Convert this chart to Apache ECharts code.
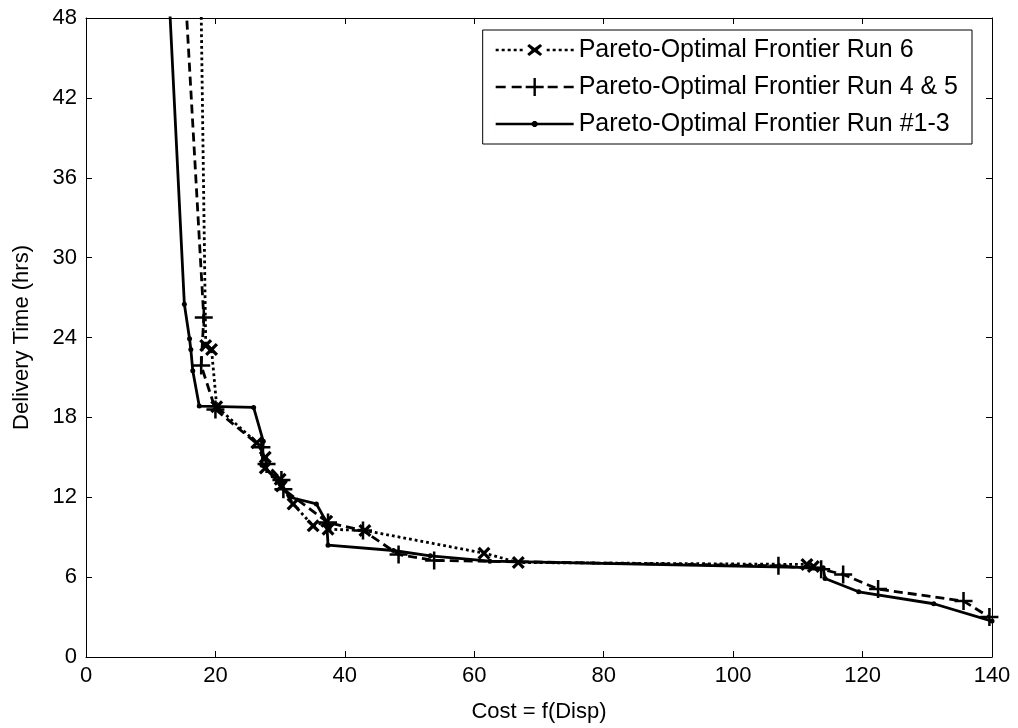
<!DOCTYPE html>
<html>
<head>
<meta charset="utf-8">
<script src="https://cdn.jsdelivr.net/npm/echarts@6/dist/echarts.min.js"></script>
<style>
  html, body { margin: 0; background: #fff; }
  #chart { width: 1018px; height: 728px; }
</style>
</head>
<body>
<div id="chart"></div>
<script>
// values (first point of each run lies above the 48 h limit and is clipped)
const run6Cost = [17.7, 18.5, 19.4, 20.2, 26.4, 27.7, 27.7, 30.0, 30.2, 32.0, 35.1, 37.2, 37.4, 43.1, 61.5, 66.8, 111.4, 112.4]
const run6Time = [52, 23.4, 23.1, 18.8, 16.1, 15.0, 14.2, 13.35, 12.85, 11.5, 9.85, 10.2, 9.6, 9.5, 7.8, 7.1, 6.95, 6.8]

const run45Cost = [15.1, 18.2, 17.8, 20.0, 27.1, 27.9, 30.2, 30.5, 37.4, 42.8, 48.3, 53.8, 107.0, 113.6, 117.0, 122.4, 135.6, 139.6]
const run45Time = [52, 25.5, 21.9, 18.6, 15.75, 14.5, 13.3, 12.6, 10.1, 9.5, 7.7, 7.25, 6.85, 6.6, 6.2, 5.1, 4.2, 3.0]

const run13Cost = [12.6, 15.2, 16.0, 16.2, 16.5, 17.5, 25.9, 27.4, 27.2, 28.9, 30.0, 31.5, 35.6, 37.2, 37.4, 47.5, 53.2, 62.4, 113.9, 114.2, 119.4, 131.0, 140.0]
const run13Time = [52, 26.5, 23.9, 23.1, 21.5, 18.85, 18.75, 16.2, 14.4, 13.6, 13.0, 12.0, 11.5, 10.1, 8.4, 8.0, 7.6, 7.2, 6.7, 5.9, 4.9, 4.0, 2.7]

const seriesNames = ['Pareto-Optimal Frontier Run 6', 'Pareto-Optimal Frontier Run 4 & 5', 'Pareto-Optimal Frontier Run #1-3']
const xTicks = { min: 0, max: 140, interval: 20 }
const yTicks = { min: 0, max: 48, interval: 6 }

const zip = (xs, ys) => xs.map((x, i) => [x, ys[i]])

// plot markers
const PLUS = 'path://M8.6,0H11.4V8.6H20V11.4H11.4V20H8.6V11.4H0V8.6H8.6Z'
const CROSS = 'path://M3.5,0L10,6.5L16.5,0L20,3.5L13.5,10L20,16.5L16.5,20L10,13.5L3.5,20L0,16.5L6.5,10L0,3.5Z'

// legend icons, 78 x 18 box: line sample with the marker in the middle
const ICON_SOLID = 'path://M0,7.7H78V10.3H0Z' +
  'M37.8,6H40.2L42,7.8V10.2L40.2,12H37.8L36,10.2V7.8Z' +
  'M0,0H0.01V18H0Z'
const ICON_DASHED = 'path://M0,7.8H10V10.2H0Z M16,7.8H26V10.2H16Z M52,7.8H62V10.2H52Z M68,7.8H78V10.2H68Z' +
  'M37.8,0H40.2V7.8H48V10.2H40.2V18H37.8V10.2H30V7.8H37.8Z'
const ICON_DOTTED = 'path://M0,7.7H3V10.3H0Z M6,7.7H9V10.3H6Z M12,7.7H15V10.3H12Z M18,7.7H21V10.3H18Z M24,7.7H27V10.3H24Z' +
  'M51,7.7H54V10.3H51Z M57,7.7H60V10.3H57Z M63,7.7H66V10.3H63Z M69,7.7H72V10.3H69Z M75,7.7H78V10.3H75Z' +
  'M33.5,3L39,7L44.5,3L46.5,5L42,9L46.5,13L44.5,15L39,11L33.5,15L31.5,13L36,9L31.5,5Z' +
  'M0,0H0.01V18H0Z'

const font = 'Liberation Sans'

const axisCommon = {
  axisLine: { show: true, onZero: false, lineStyle: { color: '#000', width: 1 } },
  axisTick: { show: true, inside: true, length: 6, lineStyle: { color: '#000' } },
  splitLine: { show: false }
}

const chart = echarts.init(document.getElementById('chart'))
chart.setOption({
  backgroundColor: '#fff',
  animation: false,
  grid: { left: 86, right: 26, top: 18, bottom: 70 },
  legend: {
    orient: 'vertical',
    right: 46,
    top: 30,
    data: [
      { name: seriesNames[0], icon: ICON_DOTTED },
      { name: seriesNames[1], icon: ICON_DASHED },
      { name: seriesNames[2], icon: ICON_SOLID }
    ],
    backgroundColor: '#fff',
    borderColor: '#000',
    borderWidth: 1,
    borderRadius: 0,
    padding: [7, 14, 7, 13],
    itemWidth: 78,
    itemHeight: 18,
    itemGap: 11,
    textStyle: { fontFamily: font, fontSize: 25, color: '#000', lineHeight: 26 }
  },
  xAxis: [
    Object.assign({
      type: 'value', position: 'bottom',
      name: 'Cost = f(Disp)', nameLocation: 'middle', nameGap: 44,
      nameTextStyle: { fontFamily: font, fontSize: 22, color: '#000' },
      axisLabel: { fontFamily: font, fontSize: 22, color: '#000', margin: 8 }
    }, xTicks, axisCommon),
    Object.assign({
      type: 'value', position: 'top', axisLabel: { show: false }
    }, xTicks, axisCommon)
  ],
  yAxis: [
    Object.assign({
      type: 'value', position: 'left',
      name: 'Delivery Time (hrs)', nameLocation: 'middle', nameGap: 53,
      nameTextStyle: { fontFamily: font, fontSize: 22, color: '#000' },
      axisLabel: { fontFamily: font, fontSize: 22, color: '#000', margin: 9 }
    }, yTicks, axisCommon),
    Object.assign({
      type: 'value', position: 'right', axisLabel: { show: false }
    }, yTicks, axisCommon)
  ],
  series: [
    {
      name: seriesNames[2],
      type: 'line',
      data: zip(run13Cost, run13Time),
      symbol: 'circle',
      symbolSize: 5,
      showAllSymbol: true,
      lineStyle: { color: '#000', width: 2.8, type: 'solid' },
      itemStyle: { color: '#000' }
    },
    {
      name: seriesNames[1],
      type: 'line',
      data: zip(run45Cost, run45Time),
      symbol: PLUS,
      symbolSize: 18,
      showAllSymbol: true,
      lineStyle: { color: '#000', width: 2.8, type: [9, 5] },
      itemStyle: { color: '#000' }
    },
    {
      name: seriesNames[0],
      type: 'line',
      data: zip(run6Cost, run6Time),
      symbol: CROSS,
      symbolSize: 13,
      showAllSymbol: true,
      lineStyle: { color: '#000', width: 2.8, type: [2.8, 3] },
      itemStyle: { color: '#000' }
    }
  ]
})
</script>
</body>
</html>
